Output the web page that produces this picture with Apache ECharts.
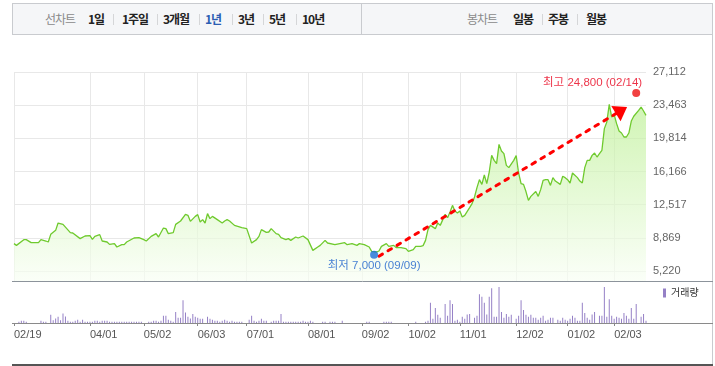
<!DOCTYPE html>
<html>
<head>
<meta charset="utf-8">
<script src="https://cdn.jsdelivr.net/npm/echarts@6/dist/echarts.min.js"></script>
<style>
  html, body { margin: 0; padding: 0; background: #fff; }
  #wrap { position: relative; width: 715px; height: 366px; overflow: hidden; font-family: "Noto Sans CJK KR", sans-serif; }
  #chart { position: absolute; left: 0; top: 0; width: 715px; height: 366px; }
  .bar { position: absolute; left: 12px; top: 3px; width: 699px; height: 30px; background: #f5f6f8; border: 1px solid #c9cbcf; }
  .bar span { position: absolute; top: 0; line-height: 30px; font-size: 12px; font-weight: bold; color: #222; letter-spacing: -1px; white-space: nowrap; }
  .bar span.cap { color: #8a8a8a; font-weight: normal; }
  .bar span.on { color: #2c5db3; }
  .bar i { position: absolute; top: 10px; width: 1px; height: 11px; background: #d5d6d8; }
  .bar b { position: absolute; top: 0; width: 1px; height: 30px; background: #c9cbcf; }
</style>
</head>
<body>
<div id="wrap">
  <div id="chart"></div>
  <div class="bar">
    <span class="cap" style="left:32px">선차트</span>
    <span style="left:75px">1일</span><i style="left:100px"></i>
    <span style="left:109px">1주일</span><i style="left:144px"></i>
    <span style="left:150px">3개월</span><i style="left:186px"></i>
    <span class="on" style="left:192px">1년</span><i style="left:219px"></i>
    <span style="left:225px">3년</span><i style="left:250px"></i>
    <span style="left:256px">5년</span><i style="left:283px"></i>
    <span style="left:289px">10년</span>
    <b style="left:348px"></b>
    <span class="cap" style="left:454px">봉차트</span>
    <span style="left:500px">일봉</span><i style="left:529px"></i>
    <span style="left:535px">주봉</span><i style="left:564px"></i>
    <span style="left:573px">월봉</span>
  </div>
</div>
<script>
// x axis: trading days 0..258, labelled only at these days
const dayCount = 259;
const xTickIdx = [0, 31, 53, 75, 95, 120, 142, 161, 182, 205, 226, 245];
const xTickLabels = ['02/19', '04/01', '05/02', '06/03', '07/01', '08/01', '09/02', '10/02', '11/01', '12/02', '01/02', '02/03'];
const yTickLabels = ['5,220', '8,869', '12,517', '16,166', '19,814', '23,463', '27,112'];

// closing price, read at the line's vertices
const priceDay = [0, 1, 4, 5, 7, 10, 11, 13, 14, 15, 17, 18, 20, 23, 24, 27, 29, 31, 32, 33, 35, 36, 38, 39, 41, 42, 44, 45, 46, 49,
  51, 53, 54, 56, 58, 59, 61, 62, 63, 65, 66, 68, 70, 71, 72, 74, 75, 76, 77, 78, 79, 80, 81, 83, 85, 86, 87, 88, 90, 93,
  95, 97, 99, 100, 101, 103, 104, 105, 107, 108, 109, 111, 112, 113, 115, 116, 118, 120, 122, 124, 125, 127, 128, 131, 133, 135, 136, 138, 140, 141,
  143, 145, 146, 148, 149, 150, 152, 153, 155, 156, 158, 160, 161, 163, 164, 166, 167, 168, 169, 170, 172, 173, 174, 176, 177, 178, 179, 180, 181, 182,
  183, 184, 186, 187, 188, 189, 190, 191, 192, 193, 194, 195, 196, 197, 198, 199, 200, 201, 202, 204, 205, 206, 207, 208, 209, 210, 211, 213, 214, 215,
  216, 217, 218, 219, 220, 221, 223, 224, 225, 226, 227, 228, 230, 231, 232, 233, 234, 235, 236, 237, 238, 239, 240, 241, 242, 243, 244, 245, 246, 247,
  248, 249, 250, 251, 252, 253, 255, 256, 257, 258];
const priceClose = [8230, 8040, 8670, 8670, 8340, 8340, 8670, 8520, 8410, 9250, 9690, 10500, 10350, 9440, 9400, 8780, 9070, 9110, 8700, 9030, 9220, 8520, 8410, 8150, 8230, 7860, 8120, 8120, 8410, 8850,
  8890, 8670, 8520, 9030, 9330, 8960, 9950, 9880, 9330, 9440, 10350, 10720, 11450, 11340, 10680, 11230, 11420, 10610, 10870, 10500, 11530, 10980, 11230, 10870, 10500, 10720, 10870, 10720, 10240, 9990,
  9880, 8300, 8670, 9030, 9770, 9470, 9510, 9880, 9330, 9250, 8890, 8670, 8780, 8590, 8960, 8850, 9070, 8670, 7490, 7860, 8040, 8590, 8300, 8120, 8230, 8340, 8120, 8230, 8040, 8230,
  8120, 7860, 7380, 7310, 7420, 7930, 8230, 7930, 8040, 7790, 7790, 7680, 7380, 7570, 7930, 7930, 8010, 8590, 9770, 10240, 9880, 10500, 10240, 11450, 11090, 11710, 12440, 11820, 11600, 11820,
  11160, 11340, 12190, 12630, 13360, 14390, 15270, 14750, 15780, 14830, 16110, 17940, 17390, 17030, 19150, 18420, 18130, 16840, 16590, 17390, 17910, 16000, 14830, 14750, 13960, 12990, 13430, 13960, 13430, 14170,
  15190, 15270, 15270, 14640, 15490, 15120, 14750, 15640, 15490, 15270, 14900, 16000, 15490, 15120, 14900, 16590, 17390, 17390, 17940, 18200, 17760, 18130, 18500, 20880, 21610, 23550, 22160, 22430, 21430, 20620,
  20400, 19960, 19960, 20400, 21720, 22240, 22890, 23260, 22820, 22340];

// volume (relative units)
const volDay = [2, 3, 4, 5, 11, 12, 13, 15, 16, 17, 18, 19, 20, 21, 22, 23, 24, 25, 26, 27, 28, 29, 30, 31, 32, 33, 34, 35, 36, 37,
  38, 39, 40, 41, 42, 43, 44, 45, 46, 47, 48, 49, 50, 51, 52, 55, 56, 57, 58, 59, 60, 61, 62, 63, 64, 65, 66, 67, 68, 69,
  70, 71, 72, 73, 74, 75, 76, 77, 79, 80, 81, 82, 83, 84, 85, 86, 87, 88, 89, 90, 91, 92, 93, 96, 97, 98, 99, 100, 101, 102,
  103, 105, 106, 107, 108, 109, 110, 111, 112, 113, 114, 115, 116, 117, 118, 119, 120, 121, 122, 126, 127, 129, 130, 131, 134, 144, 145, 151, 152, 153,
  154, 164, 168, 169, 170, 171, 172, 173, 174, 176, 177, 178, 179, 180, 181, 182, 183, 184, 185, 186, 188, 189, 190, 191, 192, 193, 194, 195, 196, 197,
  198, 199, 200, 201, 202, 203, 205, 206, 207, 208, 209, 210, 211, 212, 213, 214, 215, 216, 217, 218, 219, 220, 222, 223, 224, 225, 226, 227, 228, 229,
  230, 231, 232, 233, 234, 235, 236, 237, 239, 240, 241, 242, 243, 244, 245, 246, 247, 248, 249, 250, 251, 252, 253, 254, 256, 257, 258];
const volAmount = [13, 23, 23, 13, 23, 13, 13, 83, 27, 47, 63, 27, 97, 67, 23, 13, 13, 23, 33, 13, 33, 13, 13, 13, 13, 23, 23, 13, 23, 23,
  23, 13, 13, 13, 13, 13, 13, 13, 13, 13, 13, 13, 13, 13, 13, 13, 13, 23, 23, 13, 23, 73, 73, 33, 23, 13, 113, 53, 53, 233,
  107, 63, 47, 93, 63, 53, 43, 43, 63, 43, 33, 23, 23, 13, 23, 33, 23, 13, 23, 13, 13, 13, 13, 33, 73, 23, 13, 23, 43, 23,
  23, 13, 23, 23, 23, 93, 13, 13, 13, 13, 13, 13, 13, 13, 23, 13, 13, 23, 13, 13, 13, 13, 13, 13, 23, 13, 13, 13, 13, 13,
  13, 13, 13, 23, 207, 43, 153, 83, 53, 193, 73, 233, 193, 23, 33, 13, 63, 43, 87, 93, 53, 73, 293, 267, 207, 87, 267, 353, 63, 63,
  367, 113, 53, 93, 63, 83, 43, 73, 233, 133, 83, 63, 83, 53, 53, 33, 53, 73, 23, 33, 53, 53, 33, 23, 53, 33, 23, 43, 73, 53,
  23, 23, 207, 103, 53, 33, 87, 113, 73, 73, 367, 63, 243, 73, 43, 63, 53, 43, 103, 73, 43, 153, 43, 193, 63, 93, 23];

// [day, price, date]
const lowPoint = [147, 7000, '09/09'];
const highPoint = [254, 24800, '02/14'];
const trendStart = [149, 6850];
const trendEnd = [248, 22900];

const days = Array.from({ length: dayCount }, (_, i) => String(i));
const priceData = priceDay.map((d, i) => [d, priceClose[i]]);
const volData = volDay.map((d, i) => [d, volAmount[i]]);
const isTick = (i) => xTickIdx.includes(i);
const fmt = (v) => v.toLocaleString('en-US');
const grid = '#e8e8e8';

const chart = echarts.init(document.getElementById('chart'));
chart.setOption({
  animation: false,
  textStyle: { fontFamily: '"Liberation Sans", "Noto Sans CJK KR", sans-serif' },
  grid: [
    { left: 14, right: 69, top: 72, height: 209 },
    { left: 14, right: 69, top: 72, height: 199 },
    { left: 14, right: 69, top: 287, height: 36 }
  ],
  legend: {
    data: ['거래량'], left: 663, top: 288, padding: 0, icon: 'rect', itemWidth: 3, itemHeight: 9,
    textStyle: { fontSize: 10, color: '#333' }
  },
  xAxis: [
    {
      gridIndex: 0, type: 'category', data: days, boundaryGap: false,
      axisLine: { show: false }, axisTick: { show: false }, axisLabel: { show: false },
      splitLine: { show: true, interval: (i) => isTick(i), lineStyle: { color: grid } }
    },
    { gridIndex: 1, type: 'value', min: 0, max: 1, show: false },
    {
      gridIndex: 2, type: 'category', data: days, boundaryGap: false,
      axisLine: { show: false },
      axisTick: { show: true, interval: (i) => isTick(i), length: 3, lineStyle: { color: '#888' } },
      axisLabel: {
        interval: (i) => isTick(i), formatter: (v, i) => xTickLabels[xTickIdx.indexOf(i)] || '',
        align: 'left', color: '#555', fontSize: 11, margin: 6
      },
      splitLine: { show: false }
    }
  ],
  yAxis: [
    { gridIndex: 0, type: 'value', min: 4120, max: 27112, show: false },
    {
      gridIndex: 1, type: 'value', position: 'right', min: 0, max: 6, interval: 1,
      axisLine: { show: false }, axisTick: { show: false },
      axisLabel: { formatter: (v) => yTickLabels[v] || '', color: '#666', fontSize: 11, margin: 7 },
      splitLine: { lineStyle: { color: grid } }
    },
    { gridIndex: 2, type: 'value', min: 0, max: 367, show: false }
  ],
  graphic: [
    { type: 'line', shape: { x1: 712.5, y1: 34, x2: 712.5, y2: 364 }, style: { stroke: '#c9cbcf', lineWidth: 1 } },
    { type: 'line', shape: { x1: 12, y1: 281.5, x2: 713, y2: 281.5 }, style: { stroke: '#8c939b', lineWidth: 1 } },
    { type: 'line', shape: { x1: 12, y1: 323.5, x2: 713, y2: 323.5 }, style: { stroke: '#8a8a8a', lineWidth: 1 } },
    { type: 'line', shape: { x1: 12, y1: 365, x2: 713, y2: 365 }, style: { stroke: '#555', lineWidth: 2 } }
  ],
  series: [
    {
      type: 'line', xAxisIndex: 0, yAxisIndex: 0, data: priceData, showSymbol: false, z: 2,
      lineStyle: { color: '#6fca2e', width: 1.3 },
      areaStyle: {
        color: new echarts.graphic.LinearGradient(0, 0, 0, 1, [
          { offset: 0, color: '#bcef94' }, { offset: 1, color: '#f8fef4' }
        ])
      },
      markLine: {
        silent: true, symbol: ['none', 'triangle'], animation: false,
        lineStyle: { color: '#ff0000', width: 3, type: [4, 6.5], cap: 'round' },
        label: { show: false },
        data: [[{ coord: trendStart }, { coord: trendEnd, symbolSize: [18, 13] }]]
      }
    },
    {
      type: 'scatter', xAxisIndex: 0, yAxisIndex: 0, symbolSize: 8, z: 5,
      data: [
        {
          value: [lowPoint[0], lowPoint[1]], itemStyle: { color: '#1e6fd9' },
          label: { show: true, position: 'bottom', distance: 1, fontSize: 11.5, color: '#1b62cc',
            formatter: `최저 ${fmt(lowPoint[1])} (${lowPoint[2]})` }
        },
        {
          value: [highPoint[0], highPoint[1]], itemStyle: { color: '#ee1111' },
          label: { show: true, position: [10, -6], align: 'right', verticalAlign: 'middle', fontSize: 11.5, color: '#e8001c',
            formatter: `최고 ${fmt(highPoint[1])} (${highPoint[2]})` }
        }
      ]
    },
    {
      type: 'bar', name: '거래량', xAxisIndex: 2, yAxisIndex: 2, data: volData, barWidth: 1,
      itemStyle: { color: '#9580c6' }
    }
  ]
});
</script>
</body>
</html>
